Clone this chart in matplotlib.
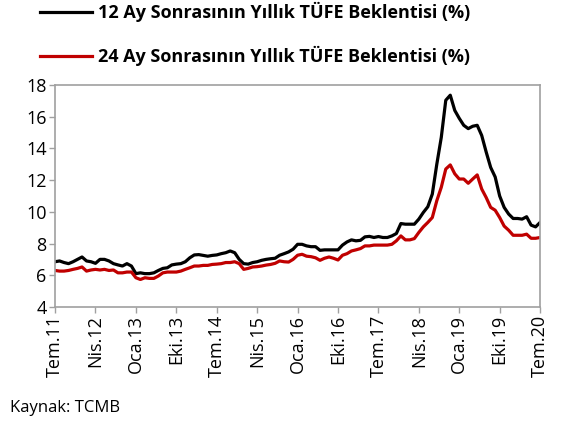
import matplotlib
matplotlib.use("Agg")
import matplotlib.pyplot as plt

# Monthly expectations, Tem.11 .. Tem.20 (109 months)
tufe_12 = [6.85, 6.9, 6.8, 6.73, 6.85, 7.0, 7.15, 6.9, 6.85, 6.75,
           7.0, 7.0, 6.9, 6.73, 6.65, 6.58, 6.73, 6.58, 6.1, 6.15,
           6.1, 6.1, 6.15, 6.3, 6.43, 6.47, 6.65, 6.7, 6.73, 6.85,
           7.1, 7.28, 7.3, 7.25, 7.2, 7.25, 7.28, 7.36, 7.42, 7.53,
           7.42, 7.0, 6.73, 6.7, 6.8, 6.85, 6.94, 7.0, 7.04, 7.07,
           7.26, 7.36, 7.47, 7.64, 7.95, 7.95, 7.85, 7.8, 7.8, 7.57,
           7.6, 7.6, 7.6, 7.6, 7.9, 8.1, 8.23, 8.17, 8.2, 8.42,
           8.45, 8.38, 8.44, 8.38, 8.38, 8.48, 8.63, 9.26, 9.22, 9.22,
           9.22, 9.54, 9.96, 10.32, 11.12, 13.0, 14.7, 17.04, 17.36, 16.4,
           15.9, 15.46, 15.25, 15.4, 15.46, 14.82, 13.77, 12.8, 12.2, 11.0,
           10.28, 9.86, 9.58, 9.58, 9.54, 9.69, 9.16, 9.05, 9.33]

tufe_24 = [6.3, 6.26, 6.26, 6.3, 6.37, 6.43, 6.52, 6.26, 6.33, 6.37,
           6.33, 6.37, 6.3, 6.33, 6.15, 6.15, 6.2, 6.2, 5.84, 5.73,
           5.84, 5.8, 5.8, 5.95, 6.15, 6.2, 6.2, 6.2, 6.26, 6.37,
           6.47, 6.58, 6.58, 6.62, 6.62, 6.68, 6.7, 6.73, 6.8, 6.8,
           6.85, 6.73, 6.37, 6.43, 6.52, 6.54, 6.58, 6.64, 6.68, 6.75,
           6.9, 6.85, 6.83, 7.0, 7.26, 7.32, 7.2, 7.17, 7.1, 6.94,
           7.07, 7.15, 7.07, 6.96, 7.26, 7.36, 7.53, 7.6, 7.68, 7.85,
           7.85, 7.9, 7.9, 7.9, 7.9, 7.95, 8.17, 8.48, 8.23, 8.23,
           8.31, 8.7, 9.05, 9.33, 9.64, 10.7, 11.55, 12.7, 12.96, 12.4,
           12.07, 12.07, 11.8, 12.07, 12.33, 11.44, 10.9, 10.28, 10.1, 9.64,
           9.1, 8.84, 8.52, 8.52, 8.52, 8.59, 8.33, 8.33, 8.38]

tick_labels = ["Tem.11", "Nis.12", "Oca.13", "Eki.13", "Tem.14", "Nis.15", "Oca.16",
               "Eki.16", "Tem.17", "Nis.18", "Oca.19", "Eki.19", "Tem.20"]

label_12 = "12 Ay Sonrasının Yıllık TÜFE Beklentisi (%)"
label_24 = "24 Ay Sonrasının Yıllık TÜFE Beklentisi (%)"

plt.rcParams['font.family'] = ['Open Sans', 'DejaVu Sans']

fig = plt.figure(figsize=(5.62, 4.21), dpi=100)
ax = fig.add_axes([0.098, 0.271, 0.863, 0.527])

x = list(range(len(tufe_12)))
l1, = ax.plot(x, tufe_12, color='black', lw=2.3, solid_joinstyle='round')
l2, = ax.plot(x, tufe_24, color='#C00000', lw=2.3, solid_joinstyle='round')

ax.set_xlim(0, 108)
ax.set_ylim(4, 18)
ax.set_yticks(range(4, 19, 2))
ax.set_xticks(range(0, 109, 9))
ax.set_xticklabels(tick_labels, rotation=90)
ax.tick_params(axis='both', labelsize=13, color='#A0A0A0', length=4, width=1, pad=2)
for s in ax.spines.values():
    s.set_color('#A0A0A0')
    s.set_linewidth(1.2)

fig.legend([l1, l2], [label_12, label_24], loc='upper left',
           bbox_to_anchor=(0.071, 0.995), frameon=False, borderpad=0,
           borderaxespad=0, handlelength=2.9, handletextpad=0.3,
           labelspacing=1.3, prop={'weight': 'bold', 'size': 13})

fig.text(0.018, 0.022, "Kaynak: TCMB", fontsize=12)

fig.savefig("out.png", dpi=100)
